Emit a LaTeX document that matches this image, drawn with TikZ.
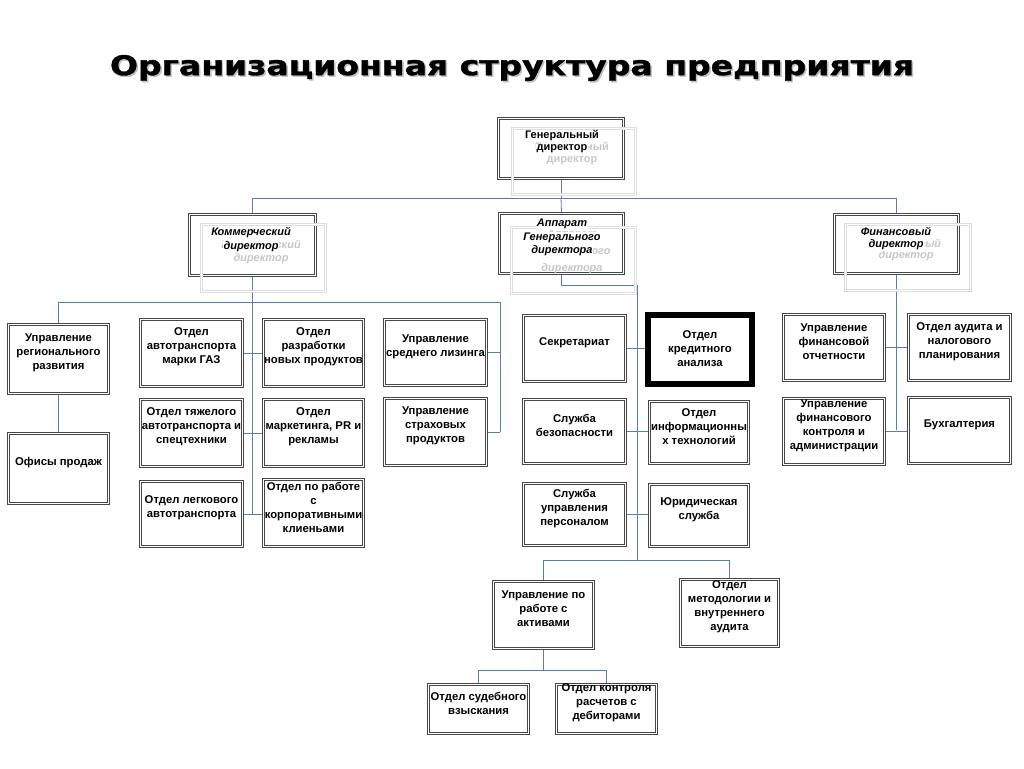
\documentclass[tikz,border=0pt]{standalone}
\usepackage{fontspec}
\setmainfont{Liberation Sans}
\newfontfamily\titlefont[BoldFeatures={FakeBold=1.2}]{DejaVu Sans}
\usetikzlibrary{calc,backgrounds}
\definecolor{conncol}{RGB}{84,126,180}
\tikzset{
  ubox/.style={draw=black!72, double=white, double distance=1.3pt, line width=1pt, fill=white, inner sep=0pt},
  kbox/.style={draw=black, line width=6pt, fill=white, inner sep=0pt},
  gbox/.style={draw=black!13, double=white, double distance=1.3pt, line width=0.9pt, inner sep=0pt},
  utext/.style={align=center, font=\fontsize{11.3}{14}\selectfont\bfseries, inner sep=0pt},
  ttext/.style={font=\fontsize{11}{13}\selectfont\bfseries\itshape, fill=white, inner sep=0.6pt},
  gtext/.style={font=\fontsize{11}{13}\selectfont\bfseries\itshape, text=black!22, inner sep=0pt},
  tutext/.style={font=\fontsize{11}{13}\selectfont\bfseries, fill=white, inner sep=0.6pt},
  gutext/.style={font=\fontsize{11}{13}\selectfont\bfseries, text=black!22, inner sep=0pt},
  conn/.style={draw=conncol, line width=0.8pt},
  titlest/.style={font=\titlefont\fontsize{27}{30}\selectfont\bfseries, inner sep=0pt},
}
\newcommand\mybox[7][ubox]{%
  \node[#1, minimum width={#5-#3-3}, minimum height={#6-#4-3}] (#2) at ({(#3+#5)/2},{(#4+#6)/2}) {};
  \node[utext] (#2-t) at ([yshift=6pt]#2.center) {#7};
}
\newcommand\topbox[5]{%
  \node[ubox, minimum width={#4-#2-3}, minimum height={#5-#3-3}] (#1) at ({(#2+#4)/2},{(#3+#5)/2}) {};
}
\newcommand\ghostbox[5]{%
  \node[gbox, minimum width={#4-#2-3}, minimum height={#5-#3-3}] (#1) at ({(#2+#4)/2},{(#3+#5)/2}) {};
}
\begin{document}
\begin{tikzpicture}[x=1pt,y=-1pt]
\useasboundingbox (0,0) rectangle (1024,768);

% title with soft shadow
\node[titlest, text=black!25] (titleshadow) at (513.5,69.5) {\resizebox{804pt}{\height}{Организационная структура предприятия}};
\node[titlest] (title) at (512,68) {\resizebox{804pt}{\height}{Организационная структура предприятия}};

% ---- top level boxes
\topbox{gd}{497}{117}{625}{180}
\topbox{komm}{188}{213}{317}{277}
\topbox{app}{498}{212}{625}{275}
\topbox{fin}{833}{213}{960}{275}

\ghostbox{gdg}{511}{127}{637}{196}
\ghostbox{kommg}{200}{223}{327}{293}
\ghostbox{appg}{510}{226}{637}{295}
\ghostbox{fing}{844}{223}{972}{292}

\node[gutext] (gdg1) at (572,148) {Генеральный};
\node[gutext] (gdg2) at (572,161) {директор};
\node[gtext] (kommg1) at (261,246) {Коммерческий};
\node[gtext] (kommg2) at (261,259) {директор};
\node[gtext] (appg1) at (572,235) {Аппарат};
\node[gtext] (appg2) at (572,252) {Генерального};
\node[gtext] (appg3) at (572,269) {директора};
\node[gtext] (fing1) at (906,243) {Финансовый};
\node[gtext] (fing2) at (906,256) {директор};

\node[tutext] (gd1) at (562,136) {Генеральный};
\node[tutext] (gd2) at (562,149) {директор};
\node[ttext] (komm1) at (251,233) {Коммерческий};
\node[ttext] (komm2) at (251,247) {директор};
\node[ttext] (app1) at (562,224) {Аппарат};
\node[ttext] (app2) at (562,238) {Генерального};
\node[ttext] (app3) at (562,251) {директора};
\node[ttext] (fin1) at (896,231) {Финансовый};
\node[ttext] (fin2) at (896,245) {директор};

% ---- commercial branch
\mybox{reg}{7}{323}{110}{395}{Управление\\регионального\\развития}
\mybox{ofis}{7}{432}{110}{505}{Офисы продаж}
\mybox{gaz}{139}{318}{244}{388}{Отдел\\автотранспорта\\марки ГАЗ}
\mybox{tyazh}{139}{398}{244}{468}{Отдел тяжелого\\автотранспорта и\\спецтехники}
\mybox{legk}{139}{480}{244}{548}{Отдел легкового\\автотранспорта}
\mybox{razr}{262}{318}{365}{388}{Отдел\\разработки\\новых продуктов}
\mybox{mark}{262}{398}{365}{468}{Отдел\\маркетинга, PR и\\рекламы}
\mybox{korp}{262}{478}{365}{548}{Отдел по работе\\с\\корпоративными\\клиеньами}
\mybox{lis}{383}{318}{488}{387}{Управление\\среднего лизинга}
\mybox{strah}{383}{397}{488}{467}{Управление\\страховых\\продуктов}

% ---- apparatus branch
\mybox{sec}{522}{314}{627}{383}{Секретариат}
\node[kbox, minimum width=104, minimum height=69] (kred) at (700,349.5) {};
\node[utext] (kred-t) at (700,349) {Отдел\\кредитного\\анализа};
\mybox{bez}{522}{398}{627}{465}{Служба\\безопасности}
\mybox{it}{648}{400}{750}{465}{Отдел\\информационны\\х технологий}
\mybox{pers}{522}{482}{627}{547}{Служба\\управления\\персоналом}
\mybox{jur}{648}{483}{750}{548}{Юридическая\\служба}
\mybox{akt}{492}{580}{595}{650}{Управление по\\работе с\\активами}
\mybox{met}{679}{578}{780}{648}{Отдел\\методологии и\\внутреннего\\аудита}
\mybox{sud}{427}{683}{530}{735}{Отдел судебного\\взыскания}
\mybox{kontr}{555}{683}{658}{735}{Отдел контроля\\расчетов с\\дебиторами}

% ---- finance branch
\mybox{fot}{782}{313}{886}{382}{Управление\\финансовой\\отчетности}
\mybox{aud}{907}{313}{1012}{382}{Отдел аудита и\\налогового\\планирования}
\mybox{fk}{782}{397}{886}{466}{Управление\\финансового\\контроля и\\администрации}
\mybox{buh}{907}{396}{1012}{465}{Бухгалтерия}

% ---- connectors
\coordinate (gdj) at (561,198);
\coordinate (kj) at (252.5,302);
\coordinate (kend) at (252.5,514);
\coordinate (kr) at (500,302);
\coordinate (krend) at (500,432);
\coordinate (aj1) at (561.5,285);
\coordinate (aj2) at (637,285);
\coordinate (aj3) at (637,560);
\coordinate (bj) at (543.5,670);
\coordinate (fend) at (896.5,430);

\begin{pgfonlayer}{background}
\fill[white] (0,0) rectangle (1024,768);
\draw[conn] (gd.south) -- (gdj);
\draw[conn] (gdj) -| (komm.north);
\draw[conn] (gdj) -| (fin.north);
\draw[conn] (gdj) -- (app.north);

\draw[conn] (komm.south) -- (kend);
\draw[conn] (kj) -| (reg.north);
\draw[conn] (kj) -- (kr) -- (krend);
\draw[conn] (reg.south) -- (ofis.north);
\draw[conn] (gaz.east) -- (razr.west |- gaz.east);
\draw[conn] (tyazh.east) -- (mark.west |- tyazh.east);
\draw[conn] (legk.east) -- (korp.west |- legk.east);
\draw[conn] (lis.east) -- (lis.east -| krend);
\draw[conn] (strah.east) -- (strah.east -| krend);

\draw[conn] (app.south) -- (aj1) -- (aj2) -- (aj3);
\draw[conn] (sec.east) -- (kred.west |- sec.east);
\draw[conn] (bez.east) -- (it.west |- bez.east);
\draw[conn] (pers.east) -- (jur.west |- pers.east);
\draw[conn] (aj3) -| (akt.north);
\draw[conn] (aj3) -| (met.north);
\draw[conn] (akt.south) -- (bj);
\draw[conn] (bj) -| (sud.north);
\draw[conn] (bj) -| (kontr.north);

\draw[conn] (fin.south) -- (fend);
\draw[conn] (fot.east) -- (aud.west |- fot.east);
\draw[conn] (fk.east) -- (buh.west |- fk.east);
\end{pgfonlayer}
\end{tikzpicture}
\end{document}
